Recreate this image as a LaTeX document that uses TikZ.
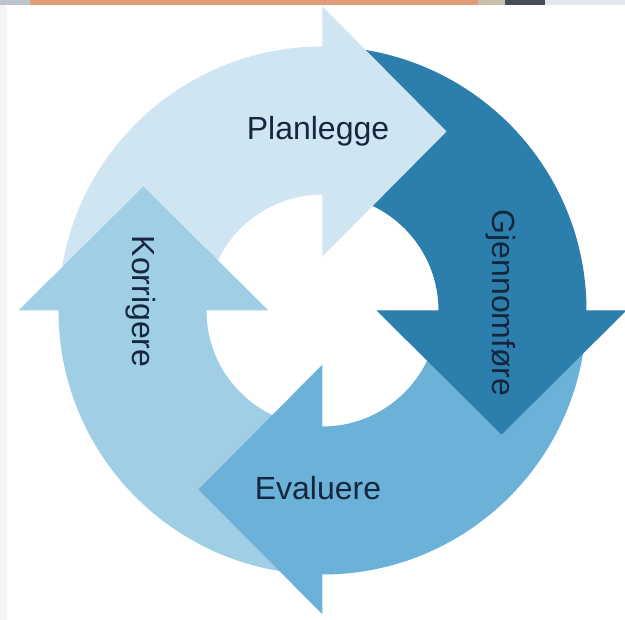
\documentclass[tikz,border=0pt]{standalone}
\usepackage{fontspec}
\setmainfont{Liberation Sans}
\definecolor{cPlan}{RGB}{207,229,242}
\definecolor{cGjen}{RGB}{44,127,173}
\definecolor{cEval}{RGB}{108,178,216}
\definecolor{cKorr}{RGB}{159,206,229}
\definecolor{txt}{RGB}{22,38,62}
\definecolor{stripOrange}{RGB}{225,156,122}
\definecolor{stripLeft}{RGB}{190,196,206}
\definecolor{stripBeige}{RGB}{200,192,170}
\definecolor{stripDark}{RGB}{70,76,88}
\definecolor{stripLight}{RGB}{228,232,238}
\definecolor{edgeGray}{RGB}{244,244,244}
\begin{document}
\begin{tikzpicture}[x=1pt,y=1pt,
  lbl/.style={font=\fontsize{32}{38}\selectfont, text=txt, inner sep=0pt}]
\def\R{264}
\def\r{116}
\useasboundingbox (-322.5,-309.5) rectangle (302.5,310.5);
\clip (-322.5,-309.5) rectangle (302.5,310.5);
\fill[white] (-322.5,-309.5) rectangle (302.5,310.5);
\fill[edgeGray] (-322.5,-309.5) rectangle (-315.5,310.5);
% bodies (tails): each starts 1 degree under the previous head and ends 1 degree under its own head
\fill[cPlan] (179:\R) arc[start angle=179,end angle=89,radius=\R] -- (89:\r) arc[start angle=89,end angle=179,radius=\r] -- cycle;
\fill[cGjen] (89:\R) arc[start angle=89,end angle=-1,radius=\R] -- (-1:\r) arc[start angle=-1,end angle=89,radius=\r] -- cycle;
\fill[cEval] (-1:\R) arc[start angle=-1,end angle=-91,radius=\R] -- (-91:\r) arc[start angle=-91,end angle=-1,radius=\r] -- cycle;
\fill[cKorr] (-91:\R) arc[start angle=-91,end angle=-181,radius=\R] -- (-181:\r) arc[start angle=-181,end angle=-91,radius=\r] -- cycle;
% heads
\fill[cPlan] (0,54) -- (0,304) -- (124,179) -- cycle;
\fill[cGjen, rotate=-90] (0,54) -- (0,304) -- (124,179) -- cycle;
\fill[cEval, rotate=-180] (0,54) -- (0,304) -- (124,179) -- cycle;
\fill[cKorr, rotate=90] (0,54) -- (0,304) -- (124,179) -- cycle;
% labels
\node[lbl, anchor=base] (plan) at (-4.5,170.5) {Planlegge};
\node[lbl, anchor=base, rotate=-90] (gjen) at (170.5,7.5) {Gjennomføre};
\node[lbl, anchor=base] (eval) at (-4.5,-189.5) {Evaluere};
\node[lbl, anchor=base, rotate=-90] (korr) at (-189.5,9) {Korrigere};
% top strip (photo edge)
\fill[stripLeft] (-322.5,305.5) rectangle (-292.5,310.5);
\fill[stripOrange] (-292.5,305.5) rectangle (155.5,310.5);
\fill[stripBeige] (155.5,305.5) rectangle (182.5,310.5);
\fill[stripDark] (182.5,305.5) rectangle (222.5,310.5);
\fill[stripLight] (222.5,305.5) rectangle (302.5,310.5);
\end{tikzpicture}
\end{document}
